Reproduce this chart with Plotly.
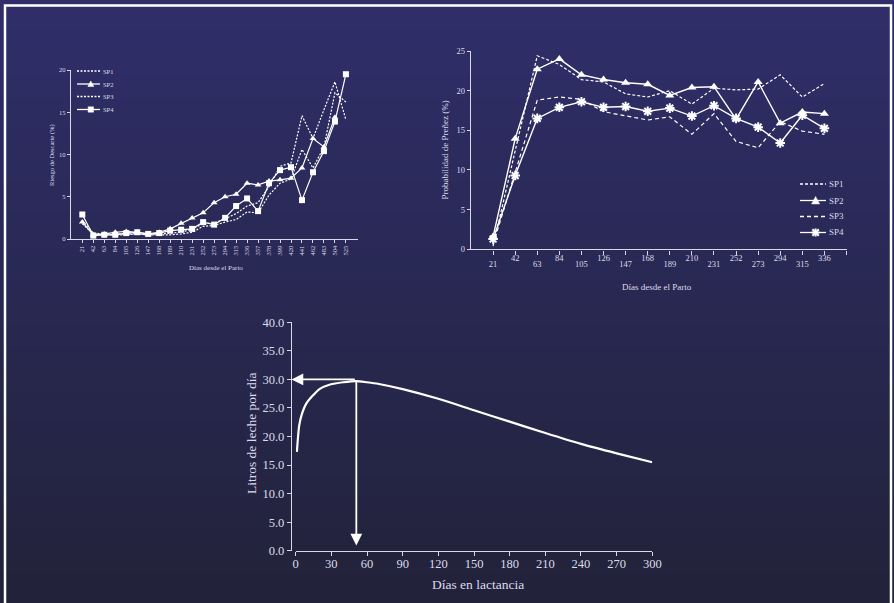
import plotly.graph_objects as go

W, H = 894, 603

# ---------------- Data ----------------
# Chart 1: Riesgo de Descarte (%)
days1 = ["21", "42", "63", "84", "105", "126", "147", "168", "189", "210", "231", "252", "273",
         "294", "315", "336", "357", "378", "399", "420", "441", "462", "483", "504", "525"]
desc_sp1 = [2.2, 0.7, 0.6, 0.6, 0.6, 0.6, 0.5, 0.6, 0.7, 0.8, 1.2, 1.8, 1.9,
            2.4, 3.0, 3.9, 4.3, 6.2, 8.6, 9.0, 14.6, 11.9, 15.3, 18.6, 14.1]
desc_sp2 = [2.0, 0.5, 0.6, 0.8, 0.9, 0.8, 0.6, 0.8, 1.2, 1.85, 2.5, 3.1, 4.3,
            5.0, 5.3, 6.6, 6.4, 6.85, 7.0, 7.2, 8.4, 11.9, 10.9, 14.4, None]
desc_sp3 = [1.8, 0.6, 0.5, 0.5, 0.5, 0.6, 0.5, 0.5, 0.5, 0.6, 0.8, 1.5, 1.6,
            2.0, 2.3, 3.2, 3.1, 5.2, 6.6, 7.1, 10.6, 8.4, 10.9, 17.3, 16.2]
desc_sp4 = [2.9, 0.4, 0.5, 0.5, 0.7, 0.8, 0.6, 0.7, 1.0, 1.1, 1.2, 2.0, 1.7,
            2.5, 3.9, 4.8, 3.3, 6.6, 8.15, 8.5, 4.6, 7.9, 10.4, 13.9, 19.5]

# Chart 2: Probabilidad de Preñez (%)
days2 = [21, 42, 63, 84, 105, 126, 147, 168, 189, 210, 231, 252, 273, 294, 315, 336]
preg_sp1 = [0.4, 12.5, 24.4, 23.3, 21.4, 21.1, 19.6, 19.2, 20.0, 18.3, 20.3, 20.1, 20.2, 22.0, 19.2, 20.9]
preg_sp2 = [1.6, 13.95, 22.7, 24.0, 22.0, 21.4, 21.0, 20.8, 19.4, 20.4, 20.5, 16.4, 21.1, 15.9, 17.3, 17.1]
preg_sp3 = [0.6, 9.8, 18.8, 19.2, 18.9, 17.35, 16.85, 16.3, 16.7, 14.5, 17.1, 13.6, 12.8, 16.1, 14.9, 14.5]
preg_sp4 = [1.3, 9.3, 16.5, 17.9, 18.6, 17.9, 18.0, 17.4, 17.8, 16.8, 18.1, 16.5, 15.4, 13.4, 16.9, 15.25]
ticks2 = [21, 42, 63, 84, 105, 126, 147, 168, 189, 210, 231, 252, 273, 294, 315, 336, 357]

# Chart 3: lactation curve
lact_days = [1, 3, 5, 9, 15, 20, 29, 40, 51, 60, 70, 90, 120, 150, 180, 210, 240, 270, 300]
lact_milk = [17.3, 22.0, 23.8, 25.8, 27.3, 28.3, 29.1, 29.5, 29.7, 29.5, 29.2, 28.3, 26.6,
             24.6, 22.6, 20.6, 18.7, 17.05, 15.5]
peak_day = 51
peak_milk = 30.0

series_names = ["SP1", "SP2", "SP3", "SP4"]

# ---------------- Styling ----------------
FONT = "Liberation Serif"
TXT = "#dcdcea"
WHITE = "white"


def px(x):
    return x / W


def py(y):
    return 1 - y / H


fig = go.Figure()

# Chart 1 traces
fig.add_trace(go.Scatter(x=days1, y=desc_sp1, name="SP1", mode="lines",
                         line=dict(color=WHITE, width=1.2, dash="2px,1.5px"),
                         xaxis="x", yaxis="y"))
fig.add_trace(go.Scatter(x=days1, y=desc_sp2, name="SP2", mode="lines+markers",
                         line=dict(color=WHITE, width=1.2),
                         marker=dict(symbol="triangle-up", size=6, color=WHITE),
                         xaxis="x", yaxis="y"))
fig.add_trace(go.Scatter(x=days1, y=desc_sp3, name="SP3", mode="lines",
                         line=dict(color=WHITE, width=1.2, dash="2px,1.5px"),
                         xaxis="x", yaxis="y"))
fig.add_trace(go.Scatter(x=days1, y=desc_sp4, name="SP4", mode="lines+markers",
                         line=dict(color=WHITE, width=1.2),
                         marker=dict(symbol="square", size=6, color=WHITE),
                         xaxis="x", yaxis="y"))

# Chart 2 traces
fig.add_trace(go.Scatter(x=days2, y=preg_sp1, name="SP1", mode="lines",
                         line=dict(color=WHITE, width=1.2, dash="3px,2px"),
                         xaxis="x2", yaxis="y2"))
fig.add_trace(go.Scatter(x=days2, y=preg_sp2, name="SP2", mode="lines+markers",
                         line=dict(color=WHITE, width=1.4),
                         marker=dict(symbol="triangle-up", size=8, color=WHITE),
                         xaxis="x2", yaxis="y2"))
fig.add_trace(go.Scatter(x=days2, y=preg_sp3, name="SP3", mode="lines",
                         line=dict(color=WHITE, width=1.2, dash="4px,3px"),
                         xaxis="x2", yaxis="y2"))
fig.add_trace(go.Scatter(x=days2, y=preg_sp4, name="SP4", mode="lines+markers",
                         line=dict(color=WHITE, width=1.4),
                         marker=dict(symbol="asterisk", size=8, color=WHITE,
                                     line=dict(color=WHITE, width=2)),
                         xaxis="x2", yaxis="y2"))

# Chart 3 trace
fig.add_trace(go.Scatter(x=lact_days, y=lact_milk, mode="lines",
                         line=dict(color=WHITE, width=2.2, shape="spline", smoothing=0.8),
                         xaxis="x3", yaxis="y3"))

# invisible trace so that the second label row axis (x4) is rendered
fig.add_trace(go.Scatter(x=[days2[0]], y=[preg_sp2[0]], mode="markers",
                         marker=dict(opacity=0), hoverinfo="skip",
                         xaxis="x4", yaxis="y2"))

# ---------------- Background gradient & frame ----------------
shapes = []
top = (47, 46, 106)
bot = (34, 34, 58)
N = 80
for i in range(N):
    t = i / (N - 1)
    c = tuple(round(top[k] + (bot[k] - top[k]) * t) for k in range(3))
    shapes.append(dict(type="rect", xref="paper", yref="paper", layer="below",
                       x0=0, x1=1, y0=1 - (i + 1) / N - 0.002, y1=1 - i / N,
                       fillcolor="rgb(%d,%d,%d)" % c, line=dict(width=0)))
shapes.append(dict(type="rect", xref="paper", yref="paper", layer="below",
                   x0=px(5), x1=px(891), y0=-0.02, y1=py(5.5),
                   line=dict(color=WHITE, width=2.5), fillcolor="rgba(0,0,0,0)"))

annotations = []


# ---------------- Manual legends (compact spacing like the original) ----------------
def add_legend(x_line0, x_line1, rows, fsize, msize, dashes, square):
    for k, name in enumerate(series_names):
        yy = rows[k]
        dash = dashes[k]
        shapes.append(dict(type="line", xref="paper", yref="paper",
                           x0=px(x_line0), x1=px(x_line1), y0=py(yy), y1=py(yy),
                           line=dict(color=WHITE, width=1.3, dash=dash if dash else "solid")))
        xm = (x_line0 + x_line1) / 2 + (x_line1 - x_line0) * 0.1
        s = msize / 2
        if k == 1:  # triangle
            path = "M %f,%f L %f,%f L %f,%f Z" % (px(xm - s), py(yy + s * 0.85),
                                                 px(xm + s), py(yy + s * 0.85),
                                                 px(xm), py(yy - s))
            shapes.append(dict(type="path", xref="paper", yref="paper", path=path,
                               fillcolor=WHITE, line=dict(color=WHITE, width=0.5)))
        elif k == 3:
            if square:
                shapes.append(dict(type="rect", xref="paper", yref="paper",
                                   x0=px(xm - s * 0.9), x1=px(xm + s * 0.9),
                                   y0=py(yy + s * 0.9), y1=py(yy - s * 0.9),
                                   fillcolor=WHITE, line=dict(color=WHITE, width=0.5)))
            else:  # asterisk
                for (dx, dy) in [(s, 0), (0, s), (s * 0.8, s * 0.8), (s * 0.8, -s * 0.8)]:
                    shapes.append(dict(type="line", xref="paper", yref="paper",
                                       x0=px(xm - dx), x1=px(xm + dx),
                                       y0=py(yy - dy), y1=py(yy + dy),
                                       line=dict(color=WHITE, width=2)))
        annotations.append(dict(text=name, xref="paper", yref="paper",
                                x=px(x_line1 + 0.5), y=py(yy), xanchor="left", yanchor="middle",
                                showarrow=False, font=dict(size=fsize, family=FONT, color=TXT)))


add_legend(77, 100, [71, 84, 96.5, 109.5], 6.5, 6, ["2px,1.5px", None, "2px,1.5px", None], True)
add_legend(800, 826, [184, 200.5, 216.5, 232.5], 9, 8, ["3px,2px", None, "4px,3px", None], False)

axis_common = dict(showgrid=False, zeroline=False, showline=True, linecolor="#d8d8e6",
                   ticks="outside", tickcolor="#d8d8e6", color=TXT)

upper_text = ["%d" % d if (i % 2 == 1 and d != 357) else "" for i, d in enumerate(ticks2)]
lower_text = ["%d" % d if (i % 2 == 0 and d != 357) else "" for i, d in enumerate(ticks2)]

fig.update_layout(
    width=W, height=H,
    margin=dict(l=0, r=0, t=0, b=0, autoexpand=False),
    paper_bgcolor="#2a2a55",
    plot_bgcolor="rgba(0,0,0,0)",
    font=dict(family=FONT, color=TXT),
    showlegend=False,
    xaxis=dict(axis_common, domain=[px(71), px(358)], anchor="y", type="category",
               range=[-1.03, 25.1], tickangle=-90, ticklen=3, linewidth=1.2,
               tickfont=dict(size=6.5, family=FONT, color=TXT)),
    yaxis=dict(axis_common, domain=[py(239), py(70)], anchor="x", range=[0, 20],
               tickvals=[0, 5, 10, 15, 20], ticklen=3, linewidth=1.2,
               tickfont=dict(size=6.5, family=FONT, color=TXT)),
    xaxis2=dict(axis_common, domain=[px(471), px(846.5)], anchor="y2", range=[0, 357],
                tickvals=ticks2, ticktext=upper_text, ticklabelstandoff=-4,
                ticklen=4, linewidth=1.4, tickangle=0,
                tickfont=dict(size=8.5, family=FONT, color=TXT)),
    xaxis4=dict(showgrid=False, zeroline=False, showline=False, ticks="", color=TXT,
                domain=[px(471), px(846.5)], anchor="free", position=py(257),
                overlaying="x2", range=[0, 357], tickvals=ticks2, ticktext=lower_text,
                tickangle=0, tickfont=dict(size=8.5, family=FONT, color=TXT)),
    yaxis2=dict(axis_common, domain=[py(249.3), py(51)], anchor="x2", range=[0, 25],
                tickvals=[0, 5, 10, 15, 20, 25], ticklen=3, linewidth=1.4,
                tickfont=dict(size=8.5, family=FONT, color=TXT)),
    xaxis3=dict(axis_common, domain=[px(295.7), px(652.3)], anchor="y3", range=[0, 300],
                tickvals=list(range(0, 301, 30)), ticklen=4, linewidth=1.4,
                ticklabelstandoff=-3,
                tickfont=dict(size=12.5, family=FONT, color=TXT)),
    yaxis3=dict(axis_common, domain=[py(550.7), py(322.3)], anchor="free", position=px(291),
                range=[0, 40], tickvals=[0, 5, 10, 15, 20, 25, 30, 35, 40],
                tickformat=".1f", ticklen=4, linewidth=1.4,
                tickfont=dict(size=12.5, family=FONT, color=TXT)),
)

annotations += [
    dict(text="Riesgo de Descarte (%)", xref="paper", yref="paper", x=px(52), y=py(155),
         textangle=-90, showarrow=False, font=dict(size=6.5, family=FONT, color=TXT)),
    dict(text="Días desde el Parto", xref="paper", yref="paper", x=px(216), y=py(267.5),
         showarrow=False, font=dict(size=7, family=FONT, color=TXT)),
    dict(text="Probabilidad de Preñez (%)", xref="paper", yref="paper", x=px(444.5), y=py(150),
         textangle=-90, showarrow=False, font=dict(size=9, family=FONT, color=TXT)),
    dict(text="Días desde el Parto", xref="paper", yref="paper", x=px(657), y=py(286.5),
         showarrow=False, font=dict(size=9, family=FONT, color=TXT)),
    dict(text="Litros de leche por día", xref="paper", yref="paper", x=px(252), y=py(433),
         textangle=-90, showarrow=False, font=dict(size=13.5, family=FONT, color=TXT)),
    dict(text="Días en lactancia", xref="paper", yref="paper", x=px(478), y=py(584),
         showarrow=False, font=dict(size=13.5, family=FONT, color=TXT)),
]
for a in annotations:
    a.setdefault("xanchor", "center")
    a.setdefault("yanchor", "middle")

annotations += [
    # arrows from the peak
    dict(text="", xref="x3", yref="y3", axref="x3", ayref="y3",
         x=-3.5, y=peak_milk, ax=peak_day, ay=peak_milk, showarrow=True,
         arrowhead=2, arrowsize=1.3, arrowwidth=1.8, arrowcolor=WHITE, standoff=0),
    dict(text="", xref="x3", yref="y3", axref="x3", ayref="y3",
         x=peak_day, y=0.9, ax=peak_day, ay=peak_milk, showarrow=True,
         arrowhead=2, arrowsize=1.3, arrowwidth=1.8, arrowcolor=WHITE, standoff=0),
]
fig.update_layout(annotations=annotations, shapes=shapes)

fig.write_html("out.html")
